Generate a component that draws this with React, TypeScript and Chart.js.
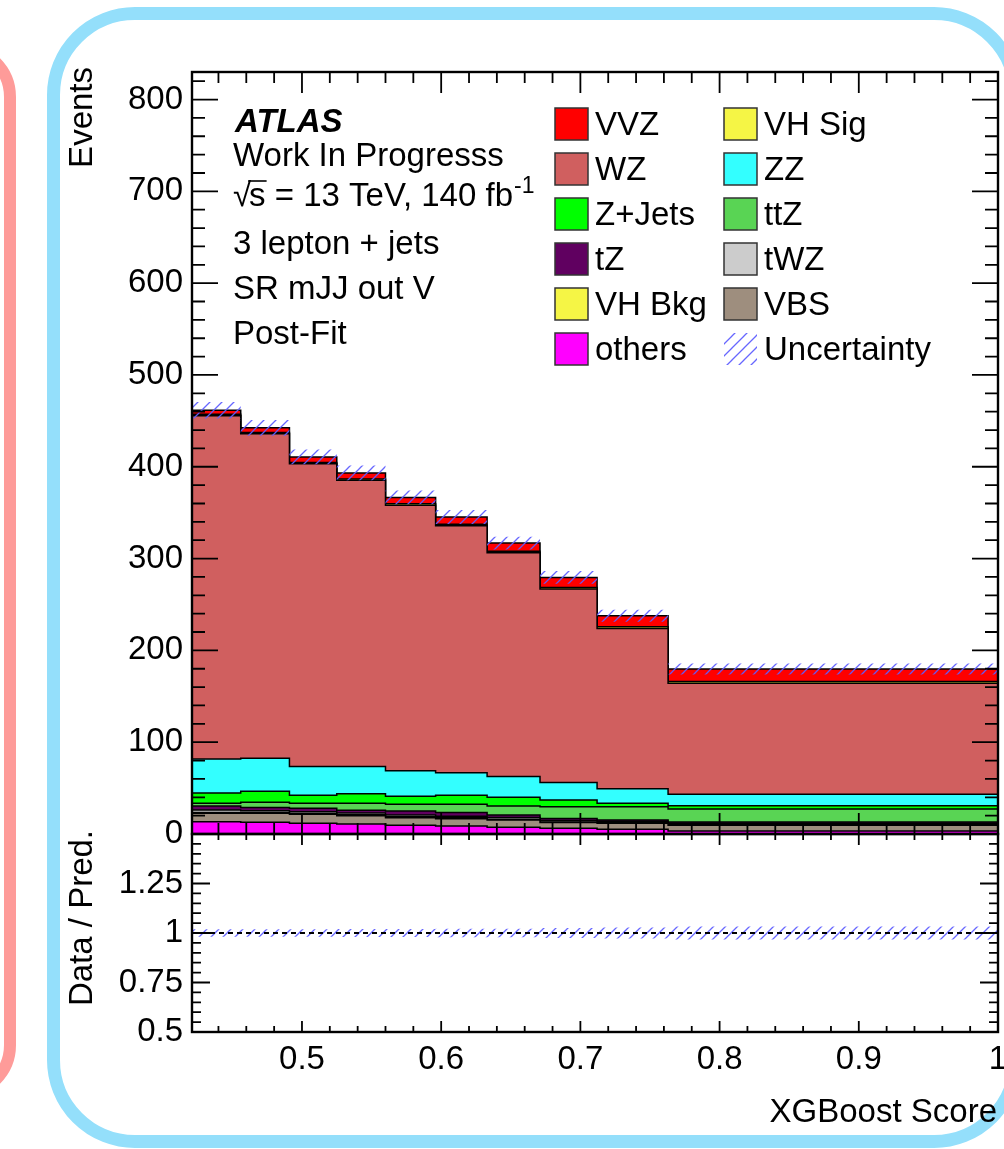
import React, { useEffect, useRef } from 'react';
import { Chart, registerables } from 'chart.js';

Chart.register(...registerables);

// ---------------- data ----------------
const binEdges = [0.421, 0.456, 0.491, 0.525, 0.56, 0.596, 0.633, 0.671, 0.712, 0.763, 1.0];

// stacked from bottom to top
const others = [13.4, 12.7, 11.6, 10.9, 9.4, 8.7, 7.3, 6.2, 5.1, 3.3];
const vbs = [9.1, 9.8, 9.8, 9.1, 8.4, 8.0, 8.0, 6.2, 6.5, 6.1];
const vhBkg = [1.0, 1.0, 1.0, 1.0, 1.0, 0.9, 0.9, 0.8, 0.8, 0.8];
const twz = [2.7, 1.9, 1.8, 1.8, 1.8, 1.8, 1.7, 1.6, 1.5, 1.6];
const tz = [4.3, 3.6, 3.8, 3.2, 4.4, 3.9, 2.8, 2.2, 1.4, 1.2];
const ttz = [2.9, 5.5, 5.4, 7.4, 7.3, 9.0, 9.8, 12.8, 14.5, 14.2];
const zjets = [11.3, 12.0, 8.8, 10.5, 8.7, 9.9, 9.5, 7.2, 3.6, 3.7];
const zz = [37.0, 36.0, 31.2, 29.5, 28.0, 24.6, 22.5, 19.0, 16.0, 12.3];
const wz = [374.0, 353.5, 329.9, 311.9, 289.1, 269.0, 243.8, 210.8, 174.5, 121.0];
const vhSig = [1.4, 1.4, 1.4, 1.5, 1.5, 1.5, 1.6, 1.7, 1.8, 1.9];
const vvz = [4.5, 5.0, 6.0, 6.5, 7.0, 8.0, 9.0, 11.0, 12.0, 13.5];
const uncertainty = [9, 8.5, 8, 8, 7.5, 7.5, 7, 7, 6.5, 6];

const seriesNames = ['others', 'VBS', 'VH Bkg', 'tWZ', 'tZ', 'ttZ', 'Z+Jets', 'ZZ', 'WZ', 'VH Sig', 'VVZ'];
const seriesValues = [others, vbs, vhBkg, twz, tz, ttz, zjets, zz, wz, vhSig, vvz];
const seriesColors: Record<string, string> = {
  others: '#ff00ff',
  VBS: '#9e8e7e',
  'VH Bkg': '#f5f545',
  tWZ: '#cccccc',
  tZ: '#600060',
  ttZ: '#59d454',
  'Z+Jets': '#00ff00',
  ZZ: '#33ffff',
  WZ: '#d05f5f',
  'VH Sig': '#f5f545',
  VVZ: '#ff0000',
};

const legendColumn1 = ['VVZ', 'WZ', 'Z+Jets', 'tZ', 'VH Bkg', 'others'];
const legendColumn2 = ['VH Sig', 'ZZ', 'ttZ', 'tWZ', 'VBS', 'Uncertainty'];

const mainYTicks = [0, 100, 200, 300, 400, 500, 600, 700, 800];
const ratioYTicks = [0.5, 0.75, 1, 1.25];
const xTicks = [0.5, 0.6, 0.7, 0.8, 0.9, 1];

const infoLines = ['Work In Progresss', '3 lepton + jets', 'SR mJJ out V', 'Post-Fit'];

const FONT = '"Liberation Sans", Arial, Helvetica, sans-serif';

// ---------------- helpers ----------------
function stepPoints(vals: number[]) {
  const pts = vals.map((v, i) => ({ x: binEdges[i], y: v }));
  pts.push({ x: binEdges[binEdges.length - 1], y: vals[vals.length - 1] });
  return pts;
}

function makeHatch(): any {
  const c = document.createElement('canvas');
  c.width = 12;
  c.height = 12;
  const g = c.getContext('2d')!;
  g.strokeStyle = 'rgba(95,95,255,0.95)';
  g.lineWidth = 1.3;
  g.beginPath();
  g.moveTo(-1, 13);
  g.lineTo(13, -1);
  g.moveTo(-1, 1);
  g.lineTo(1, -1);
  g.moveTo(11, 13);
  g.lineTo(13, 11);
  g.stroke();
  return g.createPattern(c, 'repeat');
}

type TickCfg = {
  yMajor: number[];
  yMinor: number[];
  xMajor: number[];
  xMinor: number[];
  yMajLen: number;
  yMinLen: number;
  xMajLen: number;
  xMinLen: number;
};

function drawFrameTicks(chart: any, t: TickCfg) {
  const { ctx, chartArea: a } = chart;
  const xs = chart.scales.x;
  const ys = chart.scales.y;
  ctx.save();
  ctx.strokeStyle = '#000';
  ctx.lineWidth = 1.8;
  ctx.beginPath();
  const hy = (v: number, len: number) => {
    const p = ys.getPixelForValue(v);
    ctx.moveTo(a.left, p);
    ctx.lineTo(a.left + len, p);
    ctx.moveTo(a.right, p);
    ctx.lineTo(a.right - len, p);
  };
  const hx = (v: number, len: number) => {
    const p = xs.getPixelForValue(v);
    ctx.moveTo(p, a.bottom);
    ctx.lineTo(p, a.bottom - len);
    ctx.moveTo(p, a.top);
    ctx.lineTo(p, a.top + len);
  };
  t.yMajor.forEach((v) => hy(v, t.yMajLen));
  t.yMinor.forEach((v) => hy(v, t.yMinLen));
  t.xMajor.forEach((v) => hx(v, t.xMajLen));
  t.xMinor.forEach((v) => hx(v, t.xMinLen));
  ctx.stroke();
  ctx.lineWidth = 2.4;
  ctx.strokeRect(a.left, a.top, a.right - a.left, a.bottom - a.top);
  ctx.restore();
}

function xMinorTicks() {
  const out: number[] = [];
  for (let i = 22; i < 50; i++) if (i % 5 !== 0) out.push(i * 0.02);
  return out;
}

export default function App() {
  const mainRef = useRef<HTMLCanvasElement>(null);
  const ratioRef = useRef<HTMLCanvasElement>(null);

  useEffect(() => {
    const hatch = makeHatch();

    // cumulative stack
    const cumulative: number[][] = [];
    let run = seriesValues[0].map(() => 0);
    seriesValues.forEach((s) => {
      run = run.map((r, i) => r + s[i]);
      cumulative.push(run);
    });
    const total = cumulative[cumulative.length - 1];

    const stackDatasets: any[] = cumulative.map((c, k) => ({
      label: seriesNames[k],
      data: stepPoints(c),
      stepped: true,
      borderColor: '#000',
      borderWidth: 1.5,
      backgroundColor: seriesColors[seriesNames[k]],
      fill: k === 0 ? 'origin' : '-1',
      pointRadius: 0,
    }));
    const lowerIdx = stackDatasets.length;
    const mainDatasets = [
      ...stackDatasets,
      {
        label: 'unc-low',
        data: stepPoints(total.map((t, i) => t - uncertainty[i])),
        stepped: true,
        borderColor: 'rgba(0,0,0,0)',
        borderWidth: 0,
        pointRadius: 0,
        fill: false,
        order: -1,
      },
      {
        label: 'Uncertainty',
        data: stepPoints(total.map((t, i) => t + uncertainty[i])),
        stepped: true,
        borderColor: 'rgba(0,0,0,0)',
        borderWidth: 0,
        pointRadius: 0,
        backgroundColor: hatch,
        fill: lowerIdx,
        order: -1,
      },
    ];

    const mainYMinor: number[] = [];
    for (let v = 20; v < 830; v += 20) if (v % 100 !== 0) mainYMinor.push(v);

    const mainDecor = {
      id: 'mainDecor',
      afterDatasetsDraw(chart: any) {
        drawFrameTicks(chart, {
          yMajor: mainYTicks,
          yMinor: mainYMinor,
          xMajor: xTicks,
          xMinor: xMinorTicks(),
          yMajLen: 26,
          yMinLen: 13,
          xMajLen: 21,
          xMinLen: 11,
        });
      },
      afterDraw(chart: any) {
        const ctx = chart.ctx;
        ctx.save();
        ctx.fillStyle = '#000';
        ctx.textAlign = 'left';
        ctx.textBaseline = 'alphabetic';
        // info text
        ctx.font = `italic bold 33px ${FONT}`;
        ctx.fillText('ATLAS', 235, 132);
        ctx.font = `33px ${FONT}`;
        ctx.fillText(infoLines[0], 233, 166);
        // sqrt(s) line
        const by = 206;
        let x = 233;
        ctx.fillText('\u221A', x, by);
        x += ctx.measureText('\u221A').width - 2;
        const sW = ctx.measureText('s').width;
        ctx.fillText('s', x, by);
        ctx.save();
        ctx.lineWidth = 1.6;
        ctx.strokeStyle = '#000';
        ctx.beginPath();
        ctx.moveTo(x - 1, by - 25);
        ctx.lineTo(x + sW + 1, by - 25);
        ctx.stroke();
        ctx.restore();
        x += sW;
        const rest = ' = 13 TeV, 140 fb';
        ctx.fillText(rest, x, by);
        x += ctx.measureText(rest).width;
        ctx.font = `23px ${FONT}`;
        ctx.fillText('-1', x + 1, by - 13);
        ctx.font = `33px ${FONT}`;
        ctx.fillText(infoLines[1], 233, 254);
        ctx.fillText(infoLines[2], 233, 299);
        ctx.fillText(infoLines[3], 233, 344);

        // legend
        const rowTop = (k: number) => 108 + 45 * k;
        const drawEntry = (name: string, bx: number, tx: number, k: number) => {
          const top = rowTop(k);
          if (name === 'Uncertainty') {
            ctx.fillStyle = hatch;
            ctx.fillRect(bx, top, 33, 32);
          } else {
            ctx.fillStyle = seriesColors[name];
            ctx.fillRect(bx, top, 33, 32);
            ctx.strokeStyle = '#333';
            ctx.lineWidth = 1.5;
            ctx.strokeRect(bx, top, 33, 32);
          }
          ctx.fillStyle = '#000';
          ctx.fillText(name, tx, top + 27);
        };
        legendColumn1.forEach((n, k) => drawEntry(n, 555, 595, k));
        legendColumn2.forEach((n, k) => drawEntry(n, 724, 764, k));

        // y title
        ctx.save();
        ctx.translate(92, 67);
        ctx.rotate(-Math.PI / 2);
        ctx.textAlign = 'right';
        ctx.fillStyle = '#000';
        ctx.fillText('Events', 0, 0);
        ctx.restore();
        ctx.restore();
      },
    };

    const mainChart = new Chart(mainRef.current!, {
      type: 'line',
      data: { datasets: mainDatasets },
      options: {
        animation: false,
        responsive: false,
        devicePixelRatio: 1,
        events: [],
        layout: { padding: { left: 0, right: 6, top: 72, bottom: 26 } },
        plugins: { legend: { display: false }, tooltip: { enabled: false } },
        scales: {
          x: { type: 'linear', min: binEdges[0], max: 1.0, display: false },
          y: {
            type: 'linear',
            min: 0,
            max: 830,
            grid: { display: false, drawTicks: false },
            border: { display: false },
            afterBuildTicks: (s: any) => {
              s.ticks = mainYTicks.map((v) => ({ value: v }));
            },
            afterFit: (s: any) => {
              s.width = 192;
              s.paddingTop = 0;
              s.paddingBottom = 0;
            },
            ticks: {
              color: '#000',
              padding: 9,
              font: { family: FONT, size: 33 },
              callback: (v: any) => String(v),
            },
          },
        },
      },
      plugins: [mainDecor],
    } as any);

    // ---------------- ratio ----------------
    const ratioUnc = total.map((t, i) => uncertainty[i] / t);
    const ratioYMinor: number[] = [];
    for (let i = 11; i < 30; i++) if (i % 5 !== 0) ratioYMinor.push(i * 0.05);

    const ratioDecor = {
      id: 'ratioDecor',
      afterDatasetsDraw(chart: any) {
        drawFrameTicks(chart, {
          yMajor: [0.75, 1, 1.25],
          yMinor: ratioYMinor,
          xMajor: xTicks,
          xMinor: xMinorTicks(),
          yMajLen: 18,
          yMinLen: 9,
          xMajLen: 11,
          xMinLen: 6,
        });
      },
      afterDraw(chart: any) {
        const ctx = chart.ctx;
        ctx.save();
        ctx.fillStyle = '#000';
        ctx.font = `33px ${FONT}`;
        ctx.textBaseline = 'alphabetic';
        ctx.textAlign = 'right';
        ctx.fillText('XGBoost Score', 997, 322);
        ctx.translate(92, 30);
        ctx.rotate(-Math.PI / 2);
        ctx.textAlign = 'right';
        ctx.fillText('Data / Pred.', 0, 0);
        ctx.restore();
      },
    };

    const ratioChart = new Chart(ratioRef.current!, {
      type: 'line',
      data: {
        datasets: [
          {
            label: 'r-low',
            data: stepPoints(ratioUnc.map((u) => 1 - u)),
            stepped: true,
            borderColor: 'rgba(0,0,0,0)',
            borderWidth: 0,
            pointRadius: 0,
            fill: false,
          },
          {
            label: 'r-high',
            data: stepPoints(ratioUnc.map((u) => 1 + u)),
            stepped: true,
            borderColor: 'rgba(0,0,0,0)',
            borderWidth: 0,
            pointRadius: 0,
            backgroundColor: hatch,
            fill: 0,
          },
          {
            label: 'ref',
            data: stepPoints(ratioUnc.map(() => 1)),
            stepped: true,
            borderColor: '#000',
            borderWidth: 2,
            borderDash: [5, 4],
            pointRadius: 0,
            fill: false,
            order: -1,
          },
        ],
      },
      options: {
        animation: false,
        responsive: false,
        devicePixelRatio: 1,
        events: [],
        layout: { padding: { left: 0, right: 6, top: 34, bottom: 0 } },
        plugins: { legend: { display: false }, tooltip: { enabled: false } },
        scales: {
          x: {
            type: 'linear',
            min: binEdges[0],
            max: 1.0,
            grid: { display: false, drawTicks: false },
            border: { display: false },
            afterBuildTicks: (s: any) => {
              s.ticks = xTicks.map((v) => ({ value: v }));
            },
            afterFit: (s: any) => {
              s.height = 117;
              s.paddingLeft = 0;
              s.paddingRight = 0;
            },
            ticks: {
              color: '#000',
              padding: 8,
              autoSkip: false,
              maxRotation: 0,
              font: { family: FONT, size: 33 },
              callback: (v: any) => String(Math.round(Number(v) * 10) / 10),
            },
          },
          y: {
            type: 'linear',
            min: 0.5,
            max: 1.5,
            grid: { display: false, drawTicks: false },
            border: { display: false },
            afterBuildTicks: (s: any) => {
              s.ticks = ratioYTicks.map((v) => ({ value: v }));
            },
            afterFit: (s: any) => {
              s.width = 192;
              s.paddingTop = 0;
              s.paddingBottom = 0;
            },
            ticks: {
              color: '#000',
              padding: 9,
              font: { family: FONT, size: 33 },
              callback: (v: any) => String(v),
            },
          },
        },
      },
      plugins: [ratioDecor],
    } as any);

    return () => {
      mainChart.destroy();
      ratioChart.destroy();
    };
  }, []);

  return (
    <div
      style={{
        position: 'absolute',
        left: 0,
        top: 0,
        width: 1004,
        height: 1149,
        overflow: 'hidden',
        background: '#fff',
      }}
    >
      <div
        style={{
          position: 'absolute',
          left: -500,
          top: 42,
          width: 516,
          height: 1058,
          border: '12px solid #fe9b99',
          borderRadius: 55,
          boxSizing: 'border-box',
        }}
      />
      <div
        style={{
          position: 'absolute',
          left: 47,
          top: 7,
          width: 975,
          height: 1141,
          border: '13px solid #94dffb',
          borderRadius: 88,
          boxSizing: 'border-box',
        }}
      />
      <canvas
        ref={mainRef}
        width={1004}
        height={860}
        style={{ position: 'absolute', left: 0, top: 0 }}
      />
      <canvas
        ref={ratioRef}
        width={1004}
        height={349}
        style={{ position: 'absolute', left: 0, top: 800 }}
      />
    </div>
  );
}
